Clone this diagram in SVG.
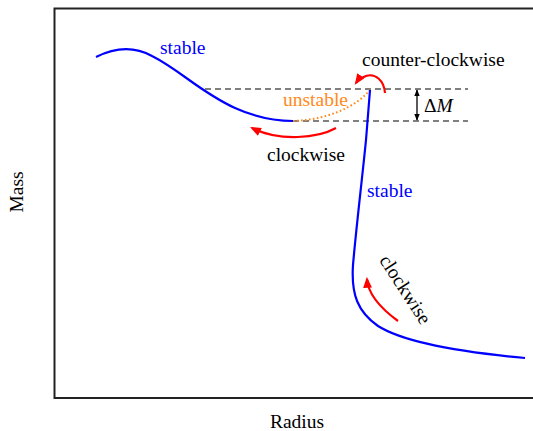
<svg xmlns="http://www.w3.org/2000/svg" width="533" height="431" viewBox="0 0 533 431">
<style>
text{font-family:'Liberation Serif','Times New Roman','DejaVu Serif',serif;font-size:19.5px;fill:#000}
.blue{fill:#0000ff}
.orange{fill:#ff8a1a}
.curve{fill:none;stroke:#0000ff;stroke-width:2.2}
.red{fill:none;stroke:#ff0000;stroke-width:2.2}
.dash{fill:none;stroke:#000;stroke-width:1;stroke-dasharray:6,4}
</style>
<defs>
<marker id="ra" viewBox="0 0 10 8" refX="8" refY="4" markerWidth="11" markerHeight="9" markerUnits="userSpaceOnUse" orient="auto">
<path d="M0,0 L10,4 L0,8 z" fill="#ff0000"/>
</marker>
<marker id="ba" viewBox="0 0 10 8" refX="9" refY="4" markerWidth="7" markerHeight="6" markerUnits="userSpaceOnUse" orient="auto">
<path d="M0,0 L10,4 L0,8 z" fill="#000"/>
</marker>
</defs>
<rect width="533" height="431" fill="#fff"/>
<g id="axes">
<path d="M533,8.5 L54.5,8.5 L54.5,398 L533,398" fill="none" stroke="#222" stroke-width="2"/>
</g>
<g id="connectors">
<path class="dash" d="M205,89 L468,89"/>
<path class="dash" d="M293,121 L468,121"/>
<path d="M417,105 L417,90" fill="none" stroke="#000" stroke-width="1.3" marker-end="url(#ba)"/>
<path d="M417,105 L417,120" fill="none" stroke="#000" stroke-width="1.3" marker-end="url(#ba)"/>
<path class="curve" d="M96,57 C112,49 132,45 152,56 C180,70 200,92 235,108 C255,117 275,121 293,121"/>
<path d="M293,121 C325,120 355,108 370,90" fill="none" stroke="#ff8a1a" stroke-width="2" stroke-dasharray="1.6,2.4"/>
<path class="curve" d="M370,90 L366,140 C362,180 356,230 353,265 C351,295 358,312 378,326 C405,343 460,352 525,358"/>
<path class="red" d="M336,128 C318,138 280,142 252,128" marker-end="url(#ra)"/>
<path class="red" d="M385,93 C384,80 375,73 366,76 C361,78 358,80 356,83" marker-end="url(#ra)"/>
<path class="red" d="M398,321 C383,310 368,295 367,279" marker-end="url(#ra)"/>
</g>
<g id="labels" font-family="Liberation Serif, serif">
<text class="blue" x="160" y="54">stable</text>
<text x="362" y="66">counter-clockwise</text>
<text class="orange" x="283" y="106">unstable</text>
<text x="424" y="112">Δ<tspan font-style="italic">M</tspan></text>
<text x="267" y="161">clockwise</text>
<text class="blue" x="367" y="197">stable</text>
<text x="400" y="293" text-anchor="middle" transform="rotate(57 400 293)">clockwise</text>
<text x="23" y="192" text-anchor="middle" transform="rotate(-90 23 192)">Mass</text>
<text x="297" y="428" text-anchor="middle">Radius</text>
</g>
</svg>
